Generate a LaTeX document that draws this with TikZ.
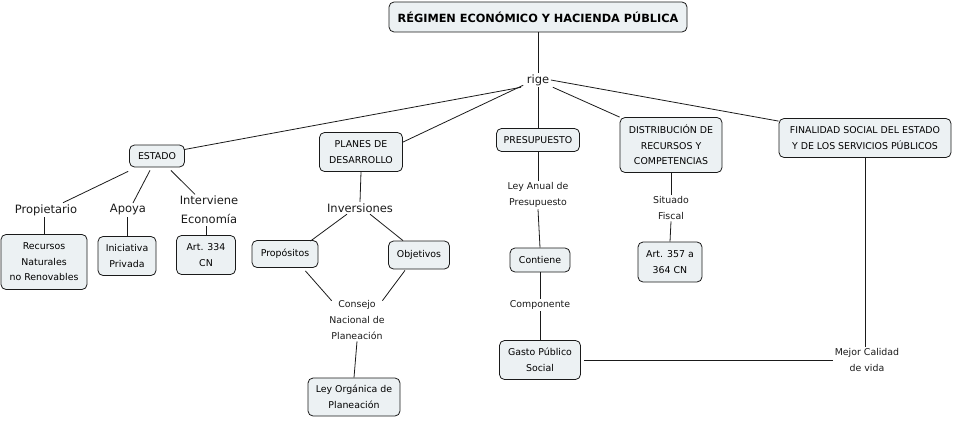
\documentclass[tikz,border=0pt]{standalone}
\usepackage{fontspec}
\setmainfont{DejaVu Sans}
\definecolor{boxfill}{HTML}{ECF1F3}
\definecolor{ink}{HTML}{1A1A1A}
\begin{document}
\begin{tikzpicture}[x=1pt,y=-1pt,
  box/.style={draw=ink, rounded corners=5pt, fill=boxfill, line width=0.8pt, align=center,
     font=\fontsize{9.4}{15.5}\selectfont, inner sep=1pt},
  lbl/.style={align=center, font=\fontsize{9.4}{16}\selectfont, inner sep=1.5pt, text=ink},
  biglbl/.style={align=center, font=\fontsize{11.5}{19}\selectfont, inner sep=1.5pt, text=ink},
  conn/.style={draw=ink, line width=0.8pt}]
\useasboundingbox (0,0) rectangle (955,420);
% boxes
\node[box, minimum width=298, minimum height=30, font=\bfseries\fontsize{11.3}{13}\selectfont] (title) at (538,17) {RÉGIMEN ECONÓMICO Y HACIENDA PÚBLICA};
\node[box, minimum width=55, minimum height=22] (estado) at (157,156) {ESTADO};
\node[box, minimum width=86, minimum height=55] (recursos) at (44,262) {Recursos\\Naturales\\no Renovables};
\node[box, minimum width=58, minimum height=39] (iniciativa) at (127,256) {Iniciativa\\Privada};
\node[box, minimum width=59, minimum height=39] (art334) at (206,255) {Art. 334\\CN};
\node[box, minimum width=83, minimum height=39] (planes) at (361,152) {PLANES DE\\DESARROLLO};
\node[box, minimum width=66, minimum height=27] (propositos) at (285,254) {Propósitos};
\node[box, minimum width=61, minimum height=28] (objetivos) at (419,255) {Objetivos};
\node[box, minimum width=92, minimum height=38] (leyorg) at (354,397) {Ley Orgánica de\\Planeación};
\node[box, minimum width=83, minimum height=23] (presup) at (538,140) {PRESUPUESTO};
\node[box, minimum width=60, minimum height=24] (contiene) at (540,260) {Contiene};
\node[box, minimum width=81, minimum height=39] (gasto) at (540,360) {Gasto Público\\Social};
\node[box, minimum width=102, minimum height=55] (distrib) at (671,145) {DISTRIBUCIÓN DE\\RECURSOS Y\\COMPETENCIAS};
\node[box, minimum width=64, minimum height=40] (art357) at (670,262) {Art. 357 a\\364 CN};
\node[box, minimum width=172, minimum height=39] (final) at (865,138) {FINALIDAD SOCIAL DEL ESTADO\\Y DE LOS SERVICIOS PÚBLICOS};
% labels
\node[biglbl] (rige) at (538,80) {rige};
\node[biglbl] (propietario) at (46,210) {Propietario};
\node[biglbl] (apoya) at (128,210) {Apoya};
\node[biglbl] (interviene) at (209,210) {Interviene\\Economía};
\node[biglbl] (inversiones) at (360,208) {Inversiones};
\node[lbl] (consejo) at (357,320) {Consejo\\Nacional de\\Planeación};
\node[lbl] (leyanual) at (538,195) {Ley Anual de\\Presupuesto};
\node[lbl] (componente) at (540,305) {Componente};
\node[lbl] (situado) at (671,208) {Situado\\Fiscal};
\node[lbl] (mejor) at (867,360) {Mejor Calidad\\de vida};
% connectors
\draw[conn] (title.south) -- (rige.north);
\draw[conn] ([xshift=-4pt]rige.south west) -- ([xshift=-1pt,yshift=-5pt]estado.north east);
\draw[conn] ([xshift=-2pt,yshift=2pt]rige.south west) -- ([yshift=-10pt]planes.north east);
\draw[conn] (rige.south) -- (presup.north);
\draw[conn] ([xshift=2pt]rige.south east) -- (distrib.north west);
\draw[conn] (rige.east) -- ([yshift=-3pt]final.north west);
\draw[conn] ([xshift=-1pt,yshift=-4pt]estado.south west) -- ([xshift=17pt]propietario.north);
\draw[conn] ([xshift=-7pt,yshift=-3pt]estado.south) -- ([xshift=5pt]apoya.north);
\draw[conn] ([xshift=-14pt,yshift=-3pt]estado.south east) -- ([xshift=-14pt]interviene.north);
\draw[conn] (recursos.north) -- (recursos.north |- propietario.south);
\draw[conn] (iniciativa.north) -- (iniciativa.north |- apoya.south);
\draw[conn] (art334.north) -- (art334.north |- interviene.south);
\draw[conn] (planes.south) -- (inversiones.north);
\draw[conn] ([xshift=-13pt]inversiones.south) -- ([xshift=-8pt,yshift=-1pt]propositos.north east);
\draw[conn] ([xshift=10pt]inversiones.south) -- ([xshift=-16pt]objetivos.north);
\draw[conn] ([xshift=-13pt,yshift=-3pt]propositos.south east) -- ([xshift=4pt,yshift=-2pt]consejo.north west);
\draw[conn] ([xshift=-14pt,yshift=-1pt]objetivos.south) -- ([xshift=-4pt,yshift=-2pt]consejo.north east);
\draw[conn] (consejo.south) -- (leyorg.north);
\draw[conn] (presup.south) -- (leyanual.north);
\draw[conn] (leyanual.south) -- (contiene.north);
\draw[conn] (contiene.south) -- (componente.north);
\draw[conn] (componente.south) -- (gasto.north);
\draw[conn] ([xshift=3pt]gasto.east) -- (mejor.west);
\draw[conn] (final.south) -- (final.south |- mejor.north);
\draw[conn] (distrib.south) -- (situado.north);
\draw[conn] (situado.south) -- (art357.north);
\end{tikzpicture}
\end{document}
